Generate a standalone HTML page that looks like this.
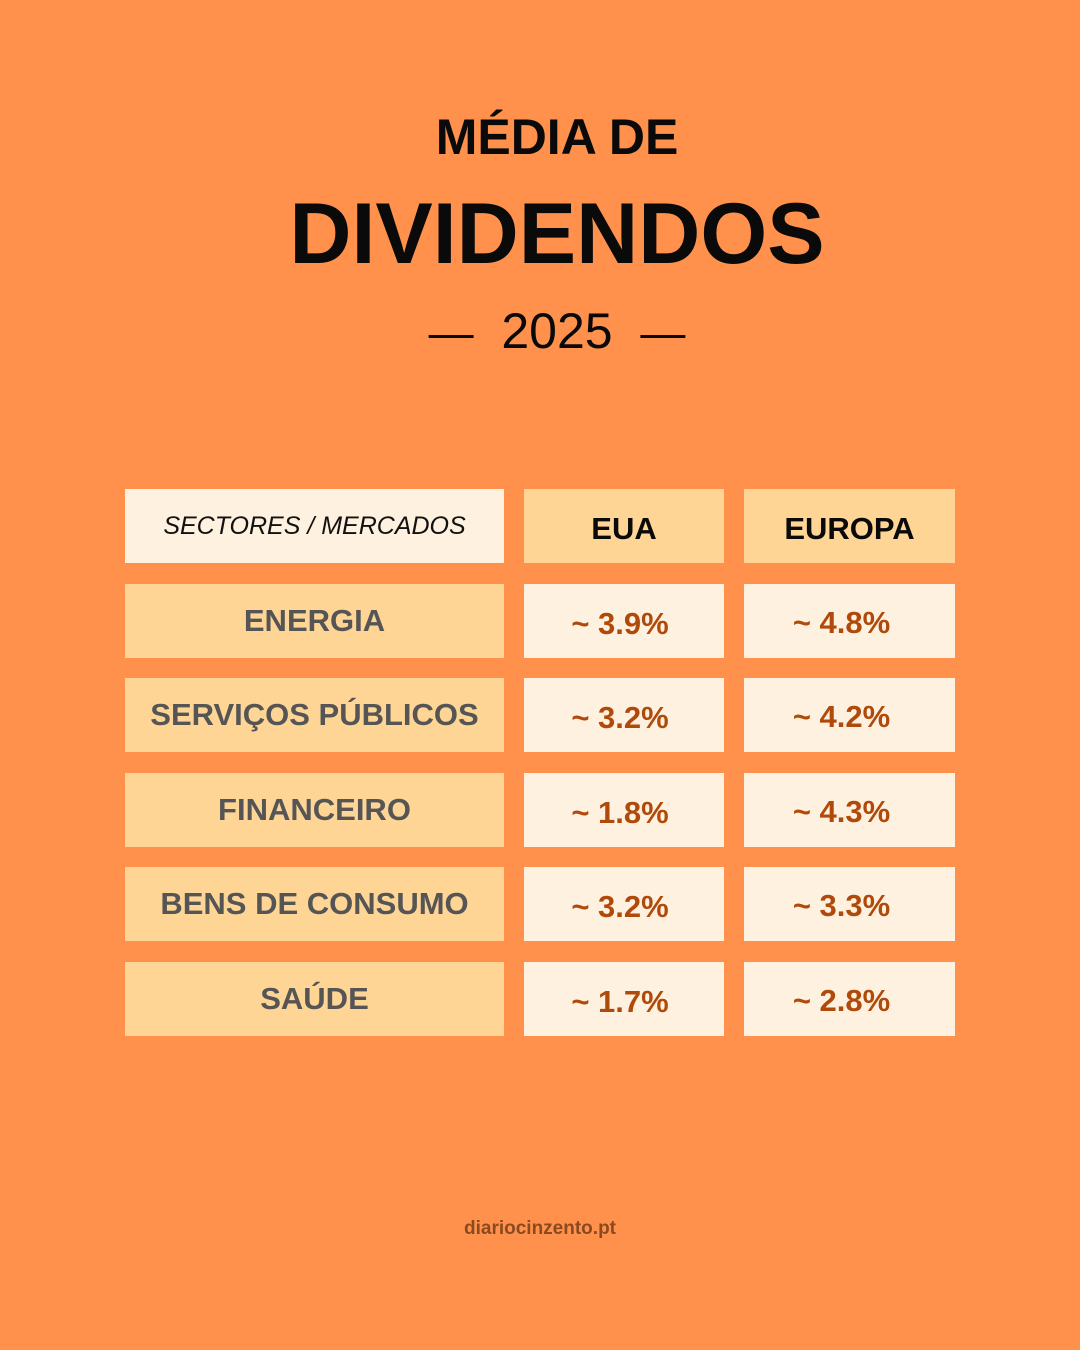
<!DOCTYPE html>
<html><head><meta charset="utf-8"><style>
html,body{margin:0;padding:0}
body{width:1080px;height:1350px;background:#FF914D;position:relative;overflow:hidden;font-family:"Liberation Sans","DejaVu Sans",sans-serif}
.t{position:absolute;left:0;width:1080px;text-align:center;color:#0a0a0a;font-weight:bold}
.cell{position:absolute;display:flex;align-items:center;justify-content:center;box-sizing:border-box;height:74px;font-weight:bold}
.light{background:#FFF1E0}.peach{background:#FFD596}
.lab{color:#555;font-size:31px}
.val{color:#B04A0A;font-size:31px}
</style></head><body>
<div class="t" style="top:108px;font-size:50px;left:17px">MÉDIA DE</div>
<div class="t" style="top:185px;font-size:86px;left:17px">DIVIDENDOS</div>
<div class="t" style="top:302px;font-size:50px;font-weight:normal;left:17px"><span style="font-size:45px">—</span>&nbsp;&nbsp;2025&nbsp;&nbsp;<span style="font-size:45px">—</span></div>
<div class="cell light" style="left:125px;top:489px;width:379px;font-weight:normal;font-style:italic;font-size:25px;color:#111;">SECTORES / MERCADOS</div>
<div class="cell peach" style="left:524px;top:489px;width:200px;font-size:31px;color:#0a0a0a;padding-top:6px">EUA</div>
<div class="cell peach" style="left:744px;top:489px;width:211px;font-size:31px;color:#0a0a0a;padding-top:6px">EUROPA</div>
<div id="rows"></div>
<div class="t" style="top:1218px;font-size:19px;color:#8a4a1f">diariocinzento.pt</div>
<script>
const sectors=["ENERGIA","SERVIÇOS PÚBLICOS","FINANCEIRO","BENS DE CONSUMO","SAÚDE"];
const euaValues=[3.9,3.2,1.8,3.2,1.7];
const europaValues=[4.8,4.2,4.3,3.3,2.8];
const tops=[584,678,773,867,962];
const root=document.getElementById('rows');
sectors.forEach((s,i)=>{
  const a=document.createElement('div');
  a.className='cell peach lab';
  
  
  a.style.cssText=`left:125px;top:${tops[i]}px;width:379px;`;
  a.textContent=s;root.appendChild(a);
  const b=document.createElement('div');
  b.className='cell light val';
  
  
  b.style.cssText=`left:524px;top:${tops[i]}px;width:200px;padding-top:6px;padding-right:8px`;
  b.textContent='~ '+euaValues[i].toFixed(1)+'%';root.appendChild(b);
  const c=document.createElement('div');
  c.className='cell light val';
  
  
  c.style.cssText=`left:744px;top:${tops[i]}px;width:211px;padding-top:4px;padding-right:16px`;
  c.textContent='~ '+europaValues[i].toFixed(1)+'%';root.appendChild(c);
});
</script>
</body></html>
